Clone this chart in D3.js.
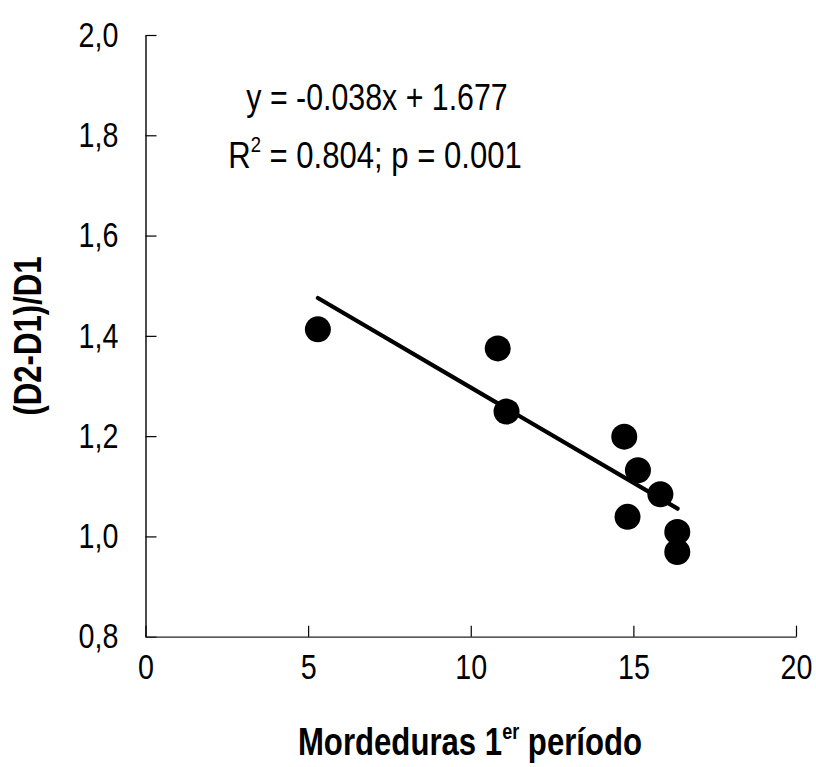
<!DOCTYPE html>
<html>
<head>
<meta charset="utf-8">
<script src="https://cdn.jsdelivr.net/npm/d3@7"></script>
<style>
  html, body { margin: 0; padding: 0; background: #fff; }
  svg text { font-family: "Liberation Sans", Arial, sans-serif; fill: #000; }
</style>
</head>
<body>
<svg id="chart" width="816" height="767"></svg>
<script>
// Bites in the first period vs relative change (D2-D1)/D1
const mordeduras = [5.30, 10.83, 11.10, 14.72, 15.14, 15.83, 14.82, 16.35, 16.35];
const ratio = [1.413, 1.375, 1.249, 1.199, 1.132, 1.084, 1.039, 1.009, 0.969];

const xTicks = [0, 5, 10, 15, 20];
const yTicks = [0.8, 1.0, 1.2, 1.4, 1.6, 1.8, 2.0];

// Linear fit
const slope = -0.038;
const intercept = 1.677;
const fitRange = [5.30, 16.36];
const r2Value = 0.804;
const pValue = 0.001;

const svg = d3.select("#chart");

const x = d3.scaleLinear().domain([0, 20]).range([145.5, 796]);
const y = d3.scaleLinear().domain([0.8, 2.0]).range([636.7, 35]);

const fmtComma = d => d3.format(".1f")(d).replace(".", ",");
const narrow = 0.82; // horizontal squeeze for a condensed face
const labelPad = 27;

// Y axis (ticks point inward)
const yAxis = svg.append("g")
  .attr("transform", `translate(${x(0)},0)`)
  .call(d3.axisLeft(y).tickValues(yTicks).tickFormat(fmtComma)
    .tickSizeInner(-11).tickSizeOuter(0).tickPadding(labelPad));
yAxis.select(".domain").attr("stroke", "#000").attr("stroke-width", 1.4);
yAxis.selectAll(".tick line").attr("stroke", "#000").attr("stroke-width", 1.2);
yAxis.selectAll(".tick text")
  .attr("font-size", 35).attr("font-family", null)
  .attr("x", -labelPad / narrow)
  .attr("transform", `scale(${narrow},1)`);

// X axis
const xAxis = svg.append("g")
  .attr("transform", `translate(0,${y(0.8)})`)
  .call(d3.axisBottom(x).tickValues(xTicks).tickFormat(d3.format("d"))
    .tickSizeInner(-11).tickSizeOuter(0).tickPadding(17));
xAxis.select(".domain").attr("stroke", "#222").attr("stroke-width", 1.2);
xAxis.selectAll(".tick line").attr("stroke", "#000").attr("stroke-width", 1.2);
xAxis.selectAll(".tick text")
  .attr("font-size", 35).attr("font-family", null)
  .attr("transform", `scale(${narrow},1)`);

// Regression line
svg.append("line")
  .attr("x1", x(fitRange[0])).attr("y1", y(slope * fitRange[0] + intercept))
  .attr("x2", x(fitRange[1])).attr("y2", y(slope * fitRange[1] + intercept))
  .attr("stroke", "#000").attr("stroke-width", 4.2).attr("stroke-linecap", "round");

// Points
svg.append("g").selectAll("circle")
  .data(mordeduras.map((m, i) => [m, ratio[i]]))
  .join("circle")
  .attr("cx", d => x(d[0]))
  .attr("cy", d => y(d[1]))
  .attr("r", 13)
  .attr("fill", "#000");

// Equation annotation
svg.append("g")
  .attr("transform", `translate(377,110) scale(${narrow},1)`)
  .append("text")
  .attr("text-anchor", "middle")
  .attr("font-size", 37)
  .text(`y = ${slope.toFixed(3)}x + ${intercept.toFixed(3)}`);

const r2 = svg.append("g")
  .attr("transform", `translate(375,168) scale(0.84,1)`)
  .append("text")
  .attr("text-anchor", "middle")
  .attr("font-size", 37);
r2.append("tspan").text("R");
r2.append("tspan").attr("font-size", 22).attr("dy", -16).text("2");
r2.append("tspan").attr("dy", 16).text(` = ${r2Value.toFixed(3)}; p = ${pValue.toFixed(3)}`);

// Axis titles
const xt = svg.append("g")
  .attr("transform", `translate(470,755) scale(${narrow},1)`)
  .append("text")
  .attr("text-anchor", "middle")
  .attr("font-size", 38)
  .attr("font-weight", "bold");
xt.append("tspan").text("Mordeduras 1");
xt.append("tspan").attr("font-size", 22).attr("dy", -16).text("er");
xt.append("tspan").attr("dy", 16).text(" período");

svg.append("g")
  .attr("transform", `translate(41,336) rotate(-90) scale(${narrow},1)`)
  .append("text")
  .attr("text-anchor", "middle")
  .attr("font-size", 38)
  .attr("font-weight", "bold")
  .text("(D2-D1)/D1");
</script>
</body>
</html>
